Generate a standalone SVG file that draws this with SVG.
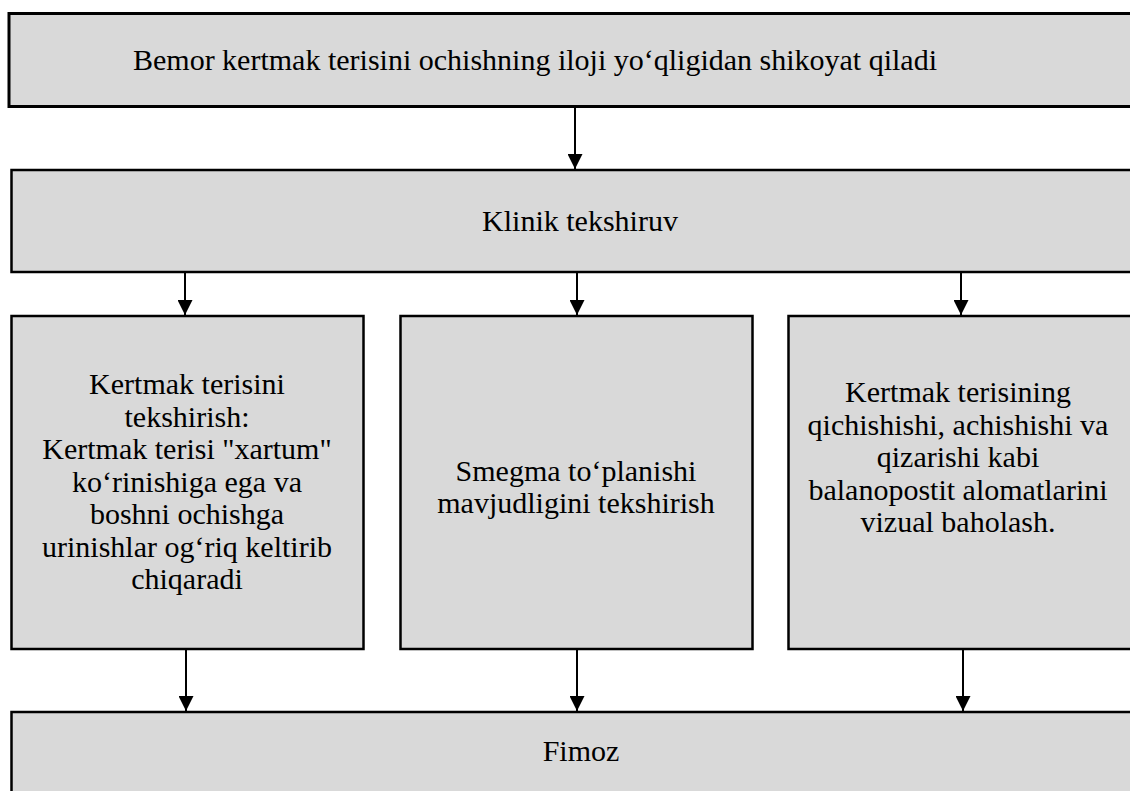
<svg xmlns="http://www.w3.org/2000/svg" width="1130" height="791" viewBox="0 0 1130 791">
<defs>
<style>
.box{fill:#d9d9d9;stroke:#000;stroke-width:2.5}
.t{font-family:"Liberation Serif","Times New Roman",serif;font-size:30px;fill:#000;text-anchor:middle}
.c{stroke:#000;stroke-width:2;fill:none}
</style>
<marker id="arr" markerWidth="15" markerHeight="15" refX="15" refY="7.5" orient="auto" markerUnits="userSpaceOnUse" viewBox="0 0 15 15">
<path d="M0,0 L15,7.5 L0,15 Z" fill="#000"/>
</marker>
</defs>
<rect width="1130" height="791" fill="#fff"/>
<g id="connectors">
<line class="c" x1="575" y1="108" x2="575" y2="169" marker-end="url(#arr)"/>
<line class="c" x1="185" y1="272" x2="185" y2="315" marker-end="url(#arr)"/>
<line class="c" x1="577" y1="272" x2="577" y2="315" marker-end="url(#arr)"/>
<line class="c" x1="961" y1="272" x2="961" y2="315" marker-end="url(#arr)"/>
<line class="c" x1="186" y1="649" x2="186" y2="711" marker-end="url(#arr)"/>
<line class="c" x1="577" y1="649" x2="577" y2="711" marker-end="url(#arr)"/>
<line class="c" x1="963" y1="649" x2="963" y2="711" marker-end="url(#arr)"/>
</g>
<g id="n1">
<rect class="box" x="9" y="13.5" width="1130" height="93" style="stroke-width:3"/>
<text class="t" x="535" y="70">Bemor kertmak terisini ochishning iloji yo‘qligidan shikoyat qiladi</text>
</g>
<g id="n2">
<rect class="box" x="11.5" y="170" width="1130" height="102"/>
<text class="t" x="580" y="231">Klinik tekshiruv</text>
</g>
<g id="n3">
<rect class="box" x="11.5" y="316" width="352" height="333"/>
<text class="t" x="187" y="394">Kertmak terisini</text>
<text class="t" x="187" y="426.5">tekshirish:</text>
<text class="t" x="187" y="459">Kertmak terisi "xartum"</text>
<text class="t" x="187" y="491.5">ko‘rinishiga ega va</text>
<text class="t" x="187" y="524">boshni ochishga</text>
<text class="t" x="187" y="556.5">urinishlar og‘riq keltirib</text>
<text class="t" x="187" y="589">chiqaradi</text>
</g>
<g id="n4">
<rect class="box" x="400.5" y="316" width="352" height="333"/>
<text class="t" x="576" y="481">Smegma to‘planishi</text>
<text class="t" x="576" y="513">mavjudligini tekshirish</text>
</g>
<g id="n5">
<rect class="box" x="788.5" y="316" width="360" height="333"/>
<text class="t" x="958" y="402">Kertmak terisining</text>
<text class="t" x="958" y="434.5">qichishishi, achishishi va</text>
<text class="t" x="958" y="467">qizarishi kabi</text>
<text class="t" x="958" y="499.5">balanopostit alomatlarini</text>
<text class="t" x="958" y="532">vizual baholash.</text>
</g>
<g id="n6">
<rect class="box" x="11.5" y="712" width="1130" height="100"/>
<text class="t" x="581" y="761">Fimoz</text>
</g>
</svg>
